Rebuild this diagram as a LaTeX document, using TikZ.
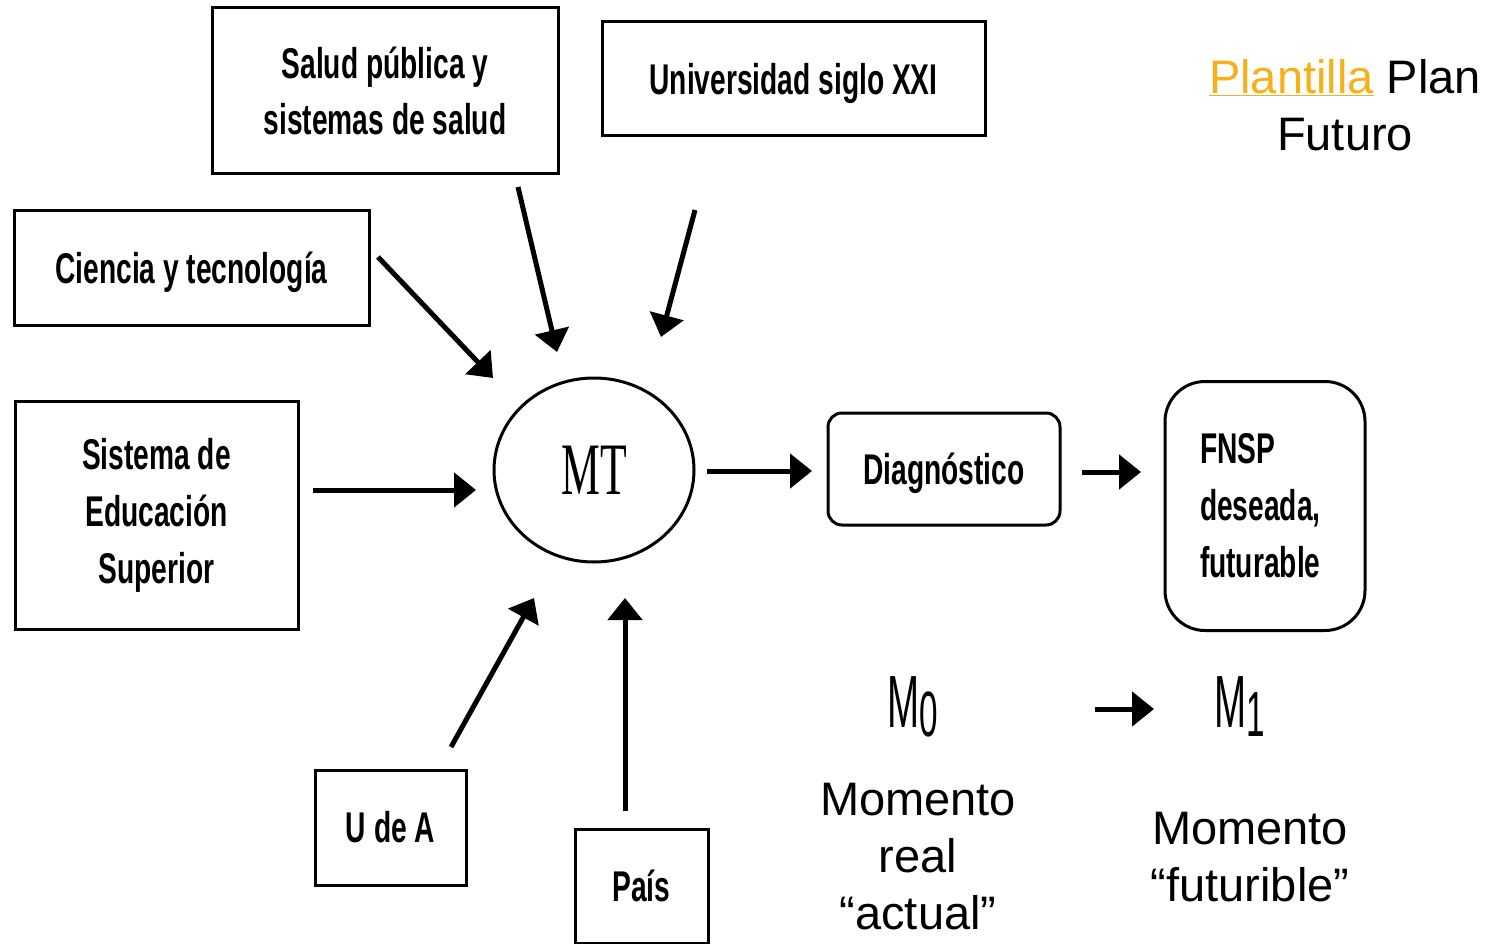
\documentclass[tikz,border=0pt]{standalone}
\usepackage{fontspec}
\setmainfont{Liberation Sans}
\newfontfamily\narrowfont[FakeStretch=0.655]{Liberation Sans}
\newfontfamily\mfont[FakeStretch=0.52]{Liberation Sans}
\newfontfamily\mtfont[FakeStretch=0.59]{Liberation Serif}
\usetikzlibrary{arrows.meta,shapes.geometric}
\definecolor{plorange}{RGB}{245,176,26}
\begin{document}
\begin{tikzpicture}[x=1pt,y=-1pt,
  box/.style={draw, line width=3pt, inner sep=0pt, align=center,
    font=\narrowfont\bfseries\fontsize{43}{56}\selectfont},
  arr/.style={line width=5pt, -{Triangle[length=22pt,width=34pt]}},
  big/.style={font=\fontsize{47}{57}\selectfont, align=center, inner sep=0pt}]
\useasboundingbox (0,0) rectangle (1498,944);
% boxes
\node[box, minimum width=346pt, minimum height=166pt] (salud) at (385,91) {Salud pública y\\sistemas de salud};
\node[box, text depth=0pt, minimum width=383pt, minimum height=114pt] (univ) at (793.5,79) {Universidad siglo XXI};
\node[box, text depth=0pt, minimum width=355pt, minimum height=115pt] (ciencia) at (191.5,267.5) {Ciencia y tecnología};
\node[box, minimum width=283pt, minimum height=228pt, font=\narrowfont\bfseries\fontsize{43}{57}\selectfont] (ses) at (156.5,515) {Sistema de\\Educación\\Superior};
\node[draw, ellipse, line width=3pt, minimum width=200pt, minimum height=184pt, inner sep=0pt] (mt) at (594,470) {\mtfont\fontsize{74}{74}\selectfont MT};
\node[box, text depth=0pt, rounded corners=14pt, minimum width=232pt, minimum height=112pt] (diag) at (944,469) {Diagnóstico};
\node[box, rounded corners=40pt, minimum width=200pt, minimum height=249pt, text width=130pt, align=left, font=\narrowfont\bfseries\fontsize{43}{57}\selectfont] (fnsp) at (1265,506) {FNSP\\deseada,\\futurable};
\node[box, minimum width=151pt, minimum height=115pt] (uda) at (390.5,827.5) {U de A};
\node[box, minimum width=133pt, minimum height=114pt] (pais) at (641.5,886) {País};
% arrow end points
\coordinate (c1) at (378,257); \coordinate (c2) at (493,378);
\coordinate (s1) at (518,187); \coordinate (s2) at (557,352);
\coordinate (u1) at (695,210); \coordinate (u2) at (661,337);
\coordinate (e1) at (313,490); \coordinate (e2) at (476,490);
\coordinate (a1) at (451,747); \coordinate (a2) at (534,598);
\coordinate (p1) at (625,811); \coordinate (p2) at (625,598);
\coordinate (d1) at (707,471); \coordinate (d2) at (812,471);
\coordinate (f1) at (1082,472); \coordinate (f2) at (1141,472);
\coordinate (m1) at (1095,709); \coordinate (m2) at (1154,709);
\draw[arr] (c1) -- (c2);
\draw[arr] (s1) -- (s2);
\draw[arr] (u1) -- (u2);
\draw[arr] (e1) -- (e2);
\draw[arr] (a1) -- (a2);
\draw[arr] (p1) -- (p2);
\draw[arr] (d1) -- (d2);
\draw[arr] (f1) -- (f2);
\draw[arr] (m1) -- (m2);
% moments
\node[inner sep=0pt] (mzero) at (913,707) {\mfont\fontsize{74}{74}\selectfont M\raisebox{-9pt}{\fontsize{64}{64}\selectfont 0}};
\node[inner sep=0pt] (mone) at (1240,707) {\mfont\fontsize{74}{74}\selectfont M\raisebox{-9pt}{\fontsize{64}{64}\selectfont 1}};
\node[big] (mrt) at (918,857) {Momento\\real\\“actual”};
\node[big] (mft) at (1250,857.5) {Momento\\“futurible”};
\node[big] (title) at (1345,105.5) {\textcolor{plorange}{\underline{Plantilla}} Plan\\Futuro};
\end{tikzpicture}
\end{document}
